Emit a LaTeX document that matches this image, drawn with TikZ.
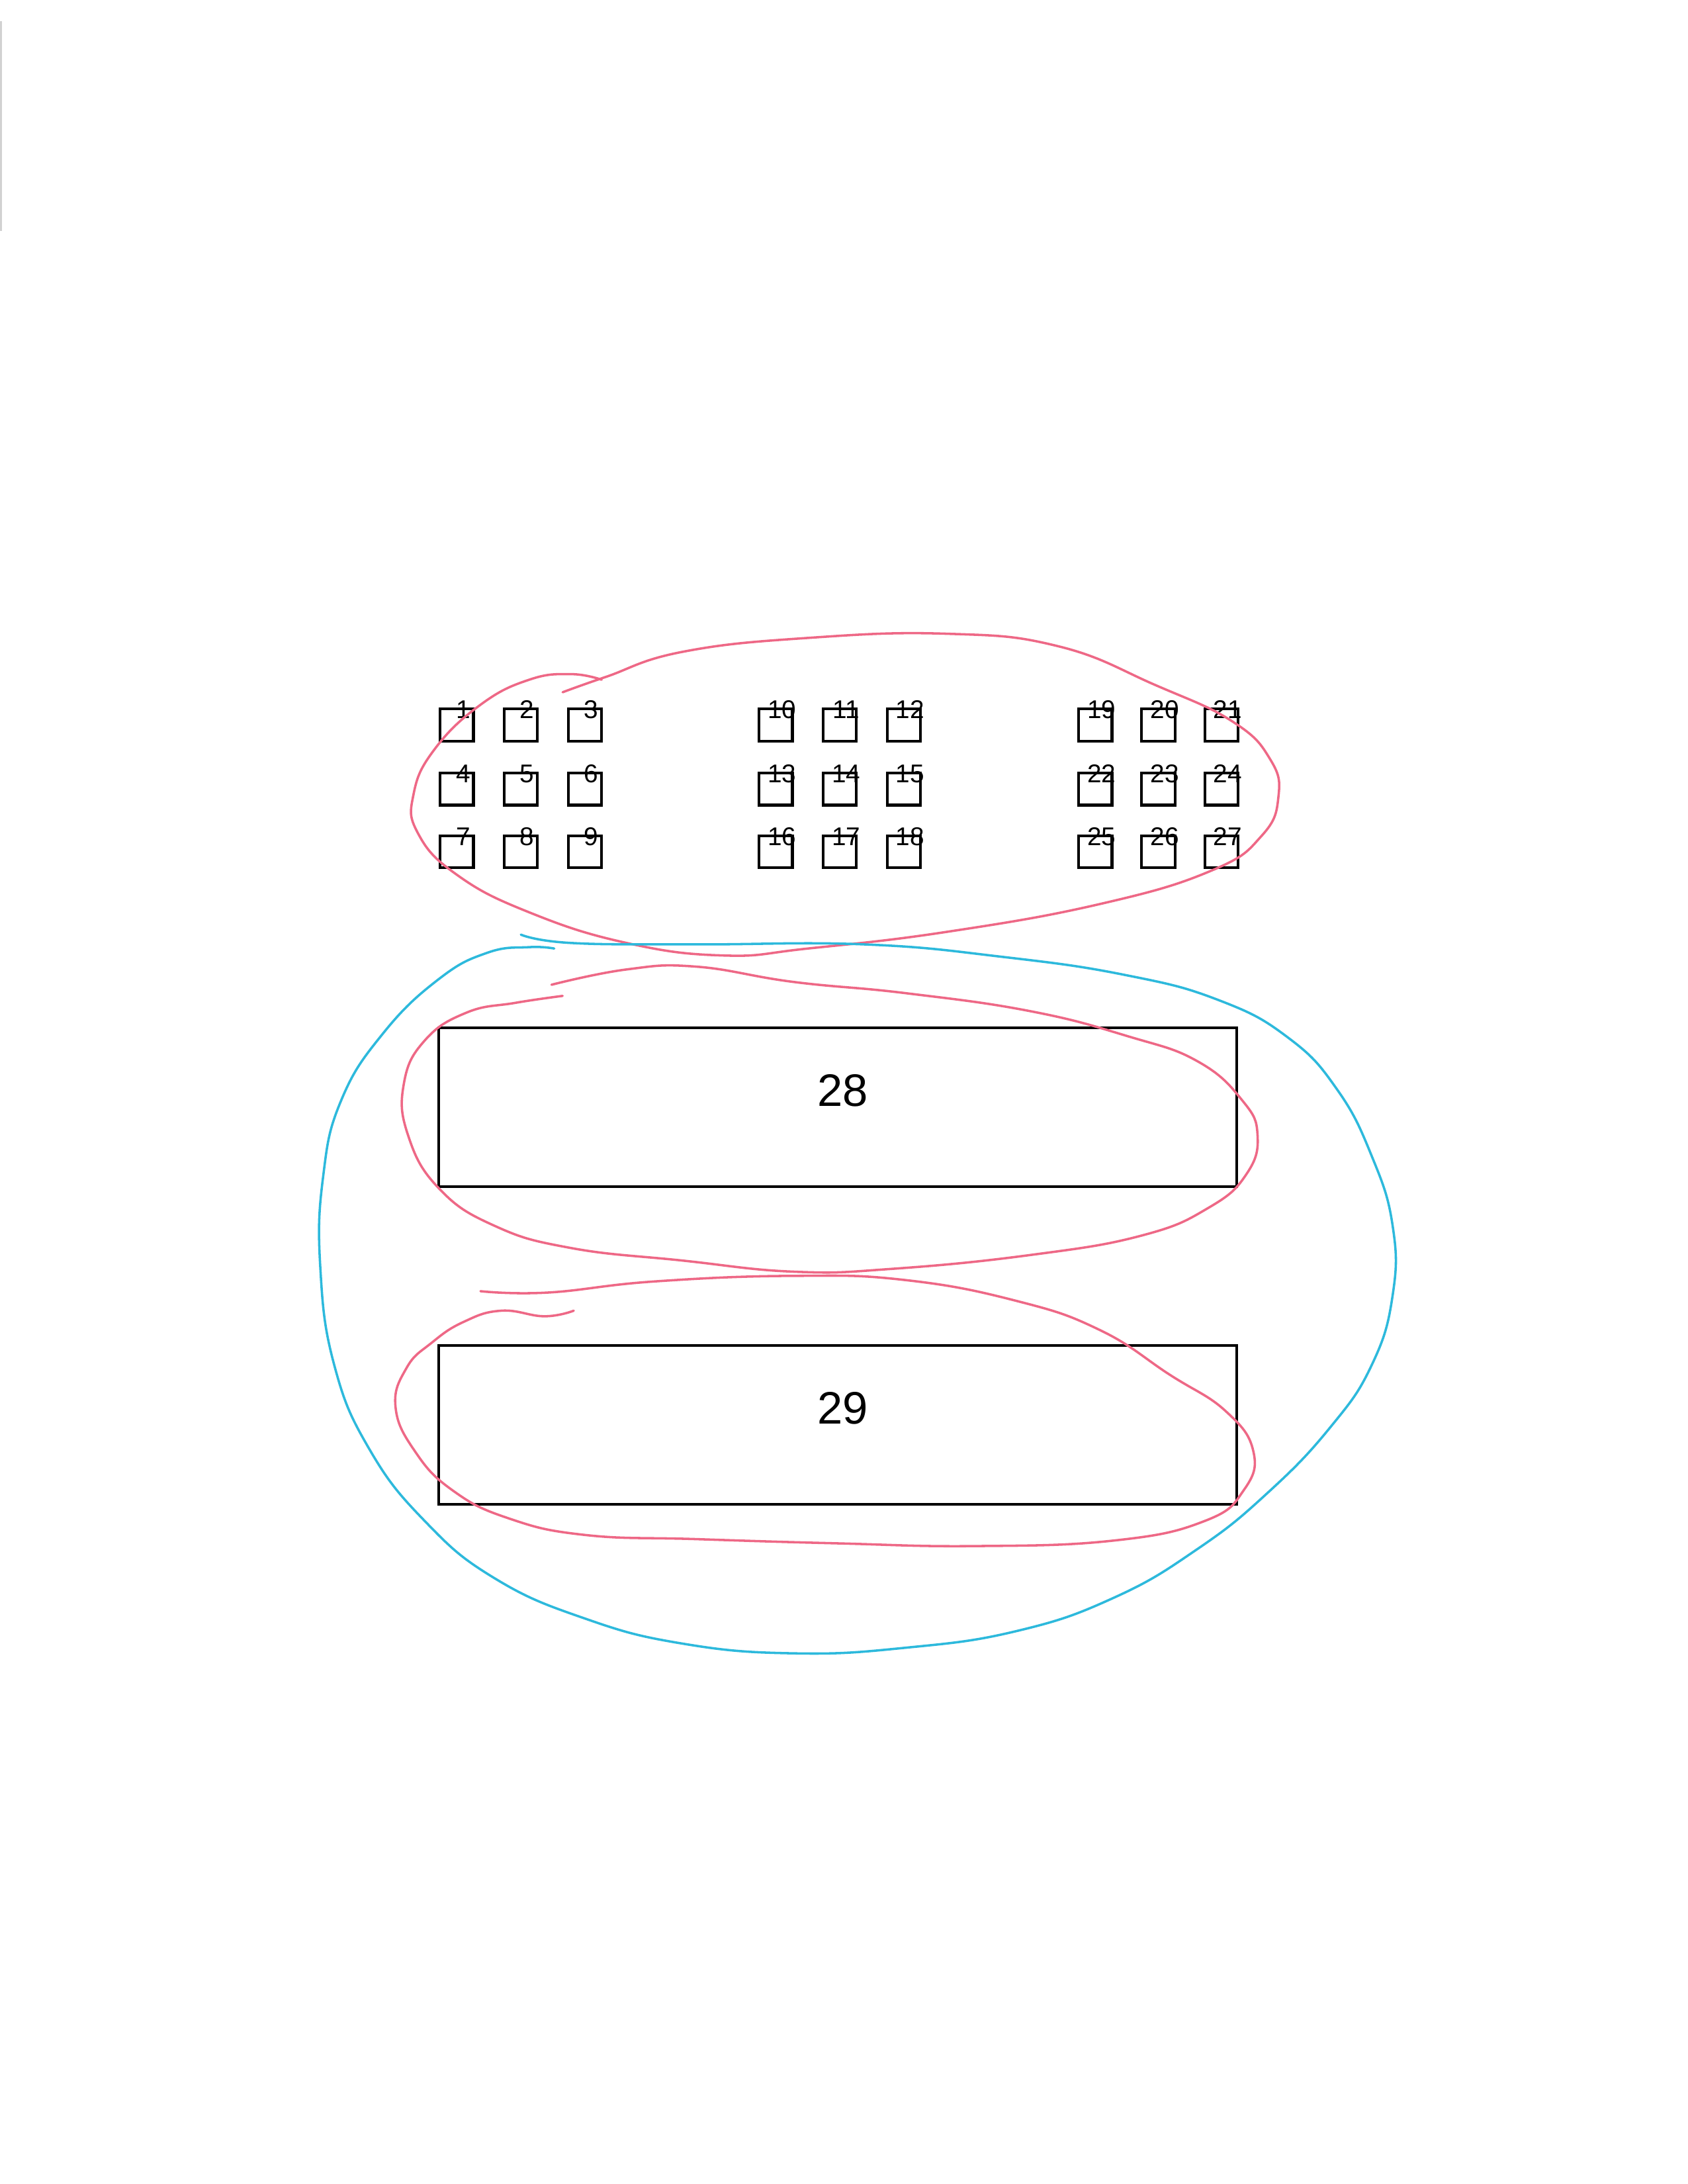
\documentclass[tikz,border=0pt]{standalone}
\usepackage{fontspec}
\setmainfont{Liberation Sans}
\usetikzlibrary{calc}
\definecolor{pen}{RGB}{238,104,134}
\definecolor{cy}{RGB}{45,185,220}
\begin{document}
\begin{tikzpicture}[x=0.50495pt,y=-0.50495pt,
  sq/.style={draw=black,line width=1pt,minimum width=12.1pt,minimum height=11.6pt,inner sep=0pt,outer sep=0pt},
  num/.style={font=\fontsize{9.3}{9.3}\selectfont,inner sep=0pt},
  bigbox/.style={draw=black,line width=0.9pt,minimum width=289.3pt,minimum height=57.6pt,inner sep=0pt,outer sep=0pt},
  bignum/.style={font=\fontsize{16.5}{16.5}\selectfont,inner sep=0pt},
  redpen/.style={draw=pen,line width=0.85pt,line cap=round,line join=round},
  bluepen/.style={draw=cy,line width=0.85pt,line cap=round,line join=round}]
\useasboundingbox (0,0) rectangle (1212,1568);
\fill[white] (0,0) rectangle (1212,1568);
\draw[black!18,line width=0.6pt] (0.8,15) -- (0.8,166);
% small boxes
\foreach \g/\gx/\dx in {0/328/46,1/557/46,2/786.5/45.3}{
 \foreach \r/\ry in {0/520.5,1/566.5,2/611.5}{
  \foreach \c in {0,1,2}{
    \pgfmathtruncatemacro\n{\g*9+\r*3+\c+1}
    \pgfmathsetmacro\xx{\gx+\c*\dx}
    \node[sq] (b\n) at (\xx,\ry) {};
    \node[num] (n\n) at ($(b\n.north)+(4.5,0.5)$) {\n};
  }}}
% big boxes
\node[bigbox] (r28) at (601.5,795) {};
\node[bignum] (t28) at (605,783) {28};
\node[bigbox] (r29) at (601.5,1023) {};
\node[bignum] (t29) at (605,1011) {29};
% red loop 1
\draw[redpen] plot[smooth,tension=0.75] coordinates {(404,497) (435,486) (490,468) (580,458) (680,455) (760,464) (830,492) (885,518) (912,545) (918,572) (906,600) (870,625) (790,649) (680,669) (580,681) (520,686) (450,677) (380,655) (328,628) (300,598) (297,570) (312,538) (345,506) (380,488) (410,484) (432,488)};
% cyan loop
\draw[bluepen] plot[smooth,tension=0.75] coordinates {(374,671) (410,677) (500,678) (620,678) (720,687) (808,700) (875,718) (925,745) (960,782) (985,830) (1000,880) (1000,930) (985,980) (955,1025) (910,1072) (860,1112) (800,1147) (730,1171) (650,1183) (570,1187) (490,1180) (420,1162) (355,1133) (305,1092) (265,1040) (240,980) (230,910) (232,845) (245,790) (275,742) (315,703) (350,684) (380,680) (398,681)};
% red loop 2
\draw[redpen] plot[smooth,tension=0.75] coordinates {(396,707) (450,696) (500,694) (570,705) (650,713) (740,726) (810,744) (860,762) (892,790) (903,815) (895,843) (868,867) (820,887) (740,901) (640,911) (570,913) (490,905) (410,896) (355,880) (315,853) (293,815) (290,778) (305,747) (335,727) (370,720) (404,715)};
% red loop 3
\draw[redpen] plot[smooth,tension=0.75] coordinates {(345,927) (393,928) (470,920) (570,916) (650,919) (730,934) (790,955) (840,987) (880,1013) (900,1042) (893,1070) (865,1092) (800,1106) (700,1110) (600,1108) (500,1105) (420,1102) (365,1090) (325,1070) (298,1042) (284,1010) (292,982) (310,964) (333,949) (360,941) (391,945) (412,941)};
\end{tikzpicture}
\end{document}
